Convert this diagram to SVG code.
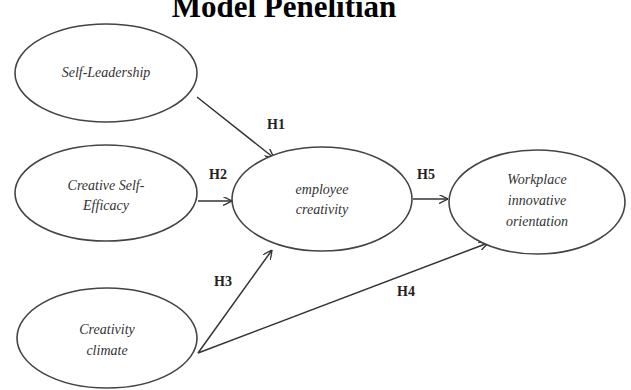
<svg xmlns="http://www.w3.org/2000/svg" width="631" height="390" viewBox="0 0 631 390">
<defs>
<marker id="arr" viewBox="0 0 10 10" refX="10" refY="5" markerWidth="9" markerHeight="9" markerUnits="userSpaceOnUse" orient="auto">
<path d="M0,0 L10,5 L0,10" fill="none" stroke="#333" stroke-width="1.5"/>
</marker>
<style>
.node{fill:#fff;stroke:#444;stroke-width:1.6}
.lbl{font-family:"Liberation Serif",serif;font-style:italic;font-size:14px;fill:#333;text-anchor:middle}
.h{font-family:"Liberation Serif",serif;font-weight:bold;font-size:14px;fill:#222;text-anchor:middle}
.edge{stroke:#333;stroke-width:1.5;fill:none;marker-end:url(#arr)}
.title{font-family:"Liberation Serif",serif;font-weight:bold;font-size:31px;fill:#000;text-anchor:middle}
</style>
</defs>
<rect width="631" height="390" fill="#fff"/>
<text class="title" x="284" y="17">Model Penelitian</text>
<g id="connectors">
<line class="edge" x1="197" y1="97" x2="274" y2="158"/>
<line class="edge" x1="198" y1="201" x2="232" y2="201"/>
<line class="edge" x1="413" y1="199" x2="448" y2="199"/>
<line class="edge" x1="198" y1="353" x2="272" y2="250"/>
<line class="edge" x1="198" y1="353" x2="488" y2="243"/>
<text class="h" x="276" y="129">H1</text>
<text class="h" x="218" y="179">H2</text>
<text class="h" x="426" y="179">H5</text>
<text class="h" x="223" y="286">H3</text>
<text class="h" x="406" y="296">H4</text>
</g>
<g id="self-leadership">
<ellipse class="node" cx="106" cy="73" rx="91" ry="49"/>
<text class="lbl" x="106" y="77">Self-Leadership</text>
</g>
<g id="creative-self-efficacy">
<ellipse class="node" cx="106" cy="193" rx="91" ry="48"/>
<text class="lbl" x="106" y="190">Creative Self-</text>
<text class="lbl" x="106" y="210">Efficacy</text>
</g>
<g id="employee-creativity">
<ellipse class="node" cx="322" cy="199" rx="90" ry="52"/>
<text class="lbl" x="322" y="194">employee</text>
<text class="lbl" x="322" y="214">creativity</text>
</g>
<g id="workplace-innovative-orientation">
<ellipse class="node" cx="537" cy="202" rx="88" ry="52"/>
<text class="lbl" x="537" y="184">Workplace</text>
<text class="lbl" x="537" y="205">innovative</text>
<text class="lbl" x="537" y="226">orientation</text>
</g>
<g id="creativity-climate">
<ellipse class="node" cx="107" cy="338" rx="90" ry="50"/>
<text class="lbl" x="107" y="334">Creativity</text>
<text class="lbl" x="107" y="355">climate</text>
</g>
</svg>
